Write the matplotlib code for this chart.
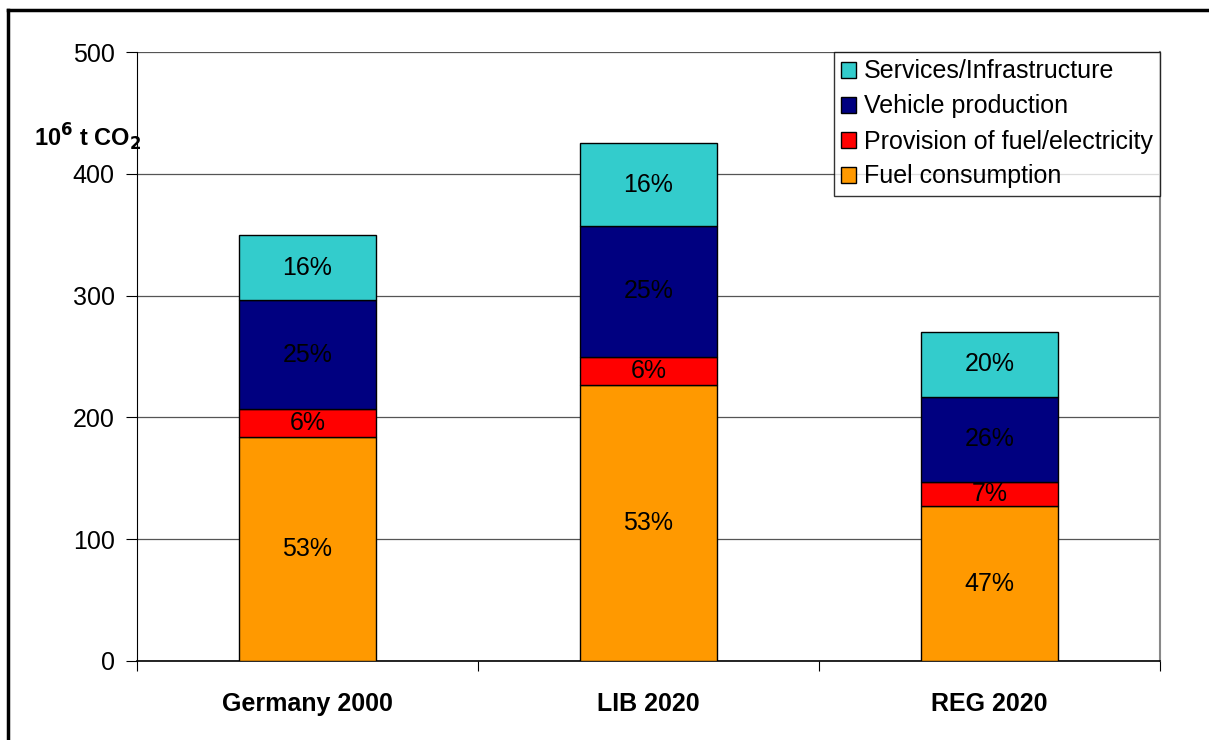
import matplotlib
matplotlib.use("Agg")
import matplotlib.pyplot as plt
from matplotlib.lines import Line2D
import numpy as np

plt.rcParams['font.family'] = ['Liberation Sans', 'DejaVu Sans']

categories = ["Germany 2000", "LIB 2020", "REG 2020"]
series_names = ["Fuel consumption", "Provision of fuel/electricity",
                "Vehicle production", "Services/Infrastructure"]
fuel = [184, 227, 127]
provision = [23, 23, 20]
vehicle = [89, 107, 70]
services = [54, 68, 53]
pct_fuel = ["53%", "53%", "47%"]
pct_provision = ["6%", "6%", "7%"]
pct_vehicle = ["25%", "25%", "26%"]
pct_services = ["16%", "16%", "20%"]
colors = ["#FF9900", "#FF0000", "#000080", "#33CCCC"]
yticks = [0, 100, 200, 300, 400, 500]

fig = plt.figure(figsize=(12.09, 7.40), dpi=100)
ax = fig.add_axes([137/1209, 1 - 661/740, (1160-137)/1209, (661-52)/740])

x = np.arange(len(categories))
series = [fuel, provision, vehicle, services]
pcts = [pct_fuel, pct_provision, pct_vehicle, pct_services]
bottom = np.zeros(len(categories))
for vals, lab, col, pc in zip(series, series_names, colors, pcts):
    v = np.array(vals, dtype=float)
    ax.bar(x, v, width=0.4, bottom=bottom, color=col, edgecolor='black',
           linewidth=1.0, label=lab, zorder=3)
    for xi, b, h, t in zip(x, bottom, v, pc):
        ax.text(xi, b + h/2, t, ha='center', va='center', fontsize=18,
                color='black', zorder=4)
    bottom += v

ax.set_xlim(-0.5, 2.5)
ax.set_ylim(0, 500)
ax.set_yticks(yticks)
ax.set_yticklabels([str(t) for t in yticks], fontsize=18)
ax.yaxis.grid(True, color='#555555', linewidth=0.9, zorder=0)
ax.set_axisbelow(True)

ax.set_xticks([-0.5, 0.5, 1.5, 2.5])
ax.set_xticklabels([])
ax.tick_params(axis='x', direction='out', length=7, width=0.8, colors='black')
ax.tick_params(axis='y', direction='out', length=8, width=0.8, pad=8)
for xi, c in zip(x, categories):
    ax.text(xi, -0.07, c, transform=ax.get_xaxis_transform(), ha='center',
            va='center', fontsize=18, fontweight='bold')

ax.spines['top'].set_visible(False)
ax.spines['right'].set_color('#888888')
ax.spines['right'].set_linewidth(1.5)
ax.spines['left'].set_color('black')
ax.spines['bottom'].set_color('black')
ax.spines['bottom'].set_linewidth(1.2)

fig.text(34/1209, 1 - 137/740, r"10$^{\mathbf{6}}$ t CO$_{\mathbf{2}}$", fontsize=17,
         fontweight='bold', ha='left', va='center')

h, l = ax.get_legend_handles_labels()
leg = ax.legend(h[::-1], l[::-1], loc='upper right', bbox_to_anchor=(1.0, 1.0),
                fontsize=18, frameon=True, fancybox=False, edgecolor='black',
                handlelength=0.6, handleheight=0.6, handletextpad=0.3,
                labelspacing=0.44, borderpad=0.3, borderaxespad=0.0)
leg.get_frame().set_linewidth(1.0)
leg.set_zorder(5)

# outer frame (left and top)
fig.add_artist(Line2D([8/1209, 8/1209], [0, 1 - 10/740], color='black',
                      linewidth=2.5, transform=fig.transFigure))
fig.add_artist(Line2D([8/1209, 1], [1 - 10/740, 1 - 10/740], color='black',
                      linewidth=2.5, transform=fig.transFigure))

fig.savefig("out.png", dpi=100)
